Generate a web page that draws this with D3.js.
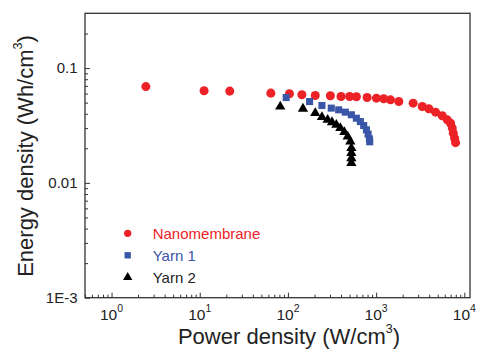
<!DOCTYPE html>
<html>
<head>
<meta charset="utf-8">
<script src="https://cdn.jsdelivr.net/npm/d3@7"></script>
<style>
  body { margin: 0; background: #fff; }
  svg { display: block; font-family: "Liberation Sans", Arial, sans-serif; }
</style>
</head>
<body>
<svg id="chart" width="479" height="349"></svg>
<script>
// Nanomembrane (red circles)
var nanoPower = [2.45, 11.2, 21.9, 64, 104, 144, 204, 303, 400, 501, 597, 790, 1008, 1220, 1455, 1808, 2630, 3335, 3963, 4722, 5623, 6412, 6986, 7305, 7500, 7760, 7960];
var nanoEnergy = [0.069, 0.0634, 0.063, 0.0605, 0.0597, 0.0585, 0.0577, 0.0574, 0.0565, 0.0565, 0.0562, 0.0554, 0.0547, 0.054, 0.0529, 0.0511, 0.0495, 0.0463, 0.0442, 0.0413, 0.0384, 0.0354, 0.0331, 0.030, 0.0271, 0.0245, 0.0224];

// Yarn 1 (blue squares)
var yarn1Power = [95.6, 176, 243, 310, 376, 448, 524, 597, 663, 723, 776, 811, 839, 846];
var yarn1Energy = [0.0554, 0.0511, 0.0472, 0.0448, 0.0433, 0.0413, 0.0392, 0.0366, 0.0342, 0.0316, 0.029, 0.0266, 0.0242, 0.0228];

// Yarn 2 (black triangles)
var yarn2Power = [81.8, 148, 204, 243, 282, 316, 354, 393, 436, 476, 510, 524, 524, 524, 524];
var yarn2Energy = [0.0462, 0.0442, 0.0405, 0.0374, 0.0354, 0.0338, 0.032, 0.030, 0.0277, 0.0253, 0.0229, 0.0201, 0.0182, 0.0164, 0.0149];

var seriesNames = ["Nanomembrane", "Yarn 1", "Yarn 2"];
var seriesColors = ["#ec2227", "#3a56a8", "#000000"];

var xTicks = [1, 10, 100, 1000, 10000];
var xTickExp = ["0", "1", "2", "3", "4"];
var yTicks = [0.001, 0.01, 0.1];
var yTickLabels = ["1E-3", "0.01", "0.1"];

var margin = {left: 85, right: 9, top: 13.3, bottom: 51.3};
var width = 479, height = 349;

var svg = d3.select('#chart');

var x = d3.scaleLog()
          .domain([0.5, 11600])
          .range([margin.left, width - margin.right]);
var y = d3.scaleLog()
          .domain([0.001, 0.3])
          .range([height - margin.bottom, margin.top]);

var axisColor = "#333";

// minor tick values
var xMinor = [];
[0.1, 1, 10, 100, 1000].forEach(function(d) {
  for (var k = 2; k <= 9; k++) {
    var v = d * k;
    if (v >= 0.5 && v <= 11600) xMinor.push(v);
  }
});
var yMinor = [];
[0.001, 0.01, 0.1].forEach(function(d) {
  for (var k = 2; k <= 9; k++) {
    var v = d * k;
    if (v <= 0.3) yMinor.push(v);
  }
});

// frame
svg.append('rect')
   .attr('x', margin.left)
   .attr('y', margin.top)
   .attr('width', width - margin.right - margin.left)
   .attr('height', height - margin.bottom - margin.top)
   .style('fill', 'none')
   .style('stroke', axisColor)
   .style('stroke-width', '1.3px');

// x axis (ticks point inward)
var gx = svg.append('g')
  .attr('transform', 'translate(0,' + (height - margin.bottom) + ')');
gx.append('g')
  .call(d3.axisBottom(x).tickValues(xTicks).tickSize(-5).tickFormat(''));
gx.append('g')
  .call(d3.axisBottom(x).tickValues(xMinor).tickSize(-3).tickFormat(''));
gx.selectAll('.domain').remove();
gx.selectAll('line').style('stroke', axisColor);

var xl = gx.selectAll('text.xl')
  .data(xTicks)
  .enter()
  .append('text')
    .attr('class', 'xl')
    .attr('x', function(d) { return x(d); })
    .attr('y', 22.3)
    .attr('text-anchor', 'middle')
    .style('font-size', '15.5px')
    .style('fill', '#222');
xl.append('tspan').text('10');
xl.append('tspan')
  .attr('dy', -8)
  .style('font-size', '10.5px')
  .text(function(d, i) { return xTickExp[i]; });

// y axis
var gy = svg.append('g')
  .attr('transform', 'translate(' + margin.left + ',0)');
gy.append('g')
  .call(d3.axisLeft(y).tickValues(yTicks).tickSize(-5).tickFormat(''));
gy.append('g')
  .call(d3.axisLeft(y).tickValues(yMinor).tickSize(-3).tickFormat(''));
gy.selectAll('.domain').remove();
gy.selectAll('line').style('stroke', axisColor);

gy.selectAll('text.yl')
  .data(yTicks)
  .enter()
  .append('text')
    .attr('class', 'yl')
    .attr('x', -7.5)
    .attr('y', function(d) { return y(d) + 5.3; })
    .attr('text-anchor', 'end')
    .style('font-size', '15px')
    .style('fill', '#222')
    .text(function(d, i) { return yTickLabels[i]; });

// axis titles
var xt = svg.append('text')
  .attr('x', 289)
  .attr('y', 343.5)
  .attr('text-anchor', 'middle')
  .style('font-size', '22px')
  .style('fill', '#222');
xt.append('tspan').text('Power density (W/cm');
xt.append('tspan').attr('dy', -11).style('font-size', '12.5px').text('3');
xt.append('tspan').attr('dy', 11).text(')');

var yt = svg.append('text')
  .attr('transform', 'translate(33,156) rotate(-90)')
  .attr('text-anchor', 'middle')
  .style('font-size', '22px')
  .style('fill', '#222');
yt.append('tspan').text('Energy density (Wh/cm');
yt.append('tspan').attr('dy', -11).style('font-size', '12.5px').text('3');
yt.append('tspan').attr('dy', 11).text(')');

// data
var circle = d3.symbol().type(d3.symbolCircle).size(64);
var square = d3.symbol().type(d3.symbolSquare).size(50);
var triangle = d3.symbol().type(d3.symbolTriangle).size(46);

function plotSeries(px, py, sym, color) {
  svg.append('g')
    .selectAll('path')
    .data(px)
    .enter()
    .append('path')
      .attr('d', sym)
      .attr('transform', function(d, i) { return 'translate(' + x(d) + ',' + y(py[i]) + ')'; })
      .style('fill', color);
}

plotSeries(nanoPower, nanoEnergy, circle, seriesColors[0]);
plotSeries(yarn1Power, yarn1Energy, square, seriesColors[1]);
plotSeries(yarn2Power, yarn2Energy, triangle, seriesColors[2]);

// legend
var legendSyms = [d3.symbol().type(d3.symbolCircle).size(42),
                  d3.symbol().type(d3.symbolSquare).size(40),
                  d3.symbol().type(d3.symbolTriangle).size(38)];
var legend = svg.append('g');
seriesNames.forEach(function(name, i) {
  var cy = 233.3 + i * 22;
  legend.append('path')
    .attr('d', legendSyms[i])
    .attr('transform', 'translate(127.7,' + cy + ')')
    .style('fill', seriesColors[i]);
  legend.append('text')
    .attr('x', 152.7)
    .attr('y', cy + 5.3)
    .style('font-size', '15px')
    .style('fill', i === 2 ? '#222' : seriesColors[i])
    .text(name);
});
</script>
</body>
</html>
